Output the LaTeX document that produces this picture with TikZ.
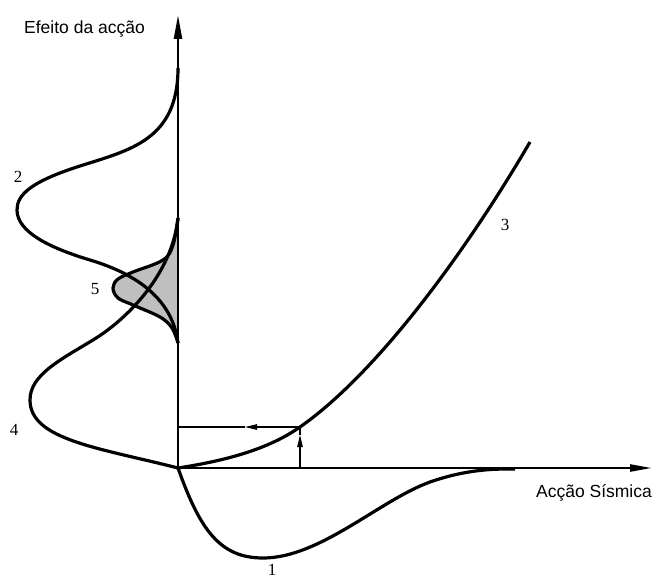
\documentclass[tikz,border=0pt]{standalone}
\usepackage{fontspec}
\setmainfont{Liberation Serif}
\newfontfamily\labelsans{Liberation Sans}
\usetikzlibrary{arrows.meta}
\begin{document}
\begin{tikzpicture}[x=1pt,y=-1pt,
  curve/.style={line width=3.2pt,line join=round},
  axisline/.style={line width=2.4pt},
  thinarrow/.style={line width=1.2pt},
  midtip/.style={-{Triangle[length=12pt,width=5.5pt]}},
  axislabel/.style={font=\labelsans\fontsize{17.5}{20}\selectfont,anchor=base,inner sep=0pt},
  numlabel/.style={font=\fontsize{17}{20}\selectfont,anchor=base,inner sep=0pt}]
\useasboundingbox (0,0) rectangle (660,578);
% shaded overlap (5)
\fill[gray!50] plot[smooth,tension=0.6] coordinates {(178,218) (173,245) (163,260) (133,272) (118,279) (113,288) (118,298) (133,305) (160,317) (172,328) (178,343)} -- cycle;
% axes
\coordinate (O) at (178,468);
\coordinate (ytip) at (178,15);
\coordinate (xtip) at (652,468);
\draw[axisline,-{Triangle[length=24pt,width=8pt]}] (O) -- (ytip);
\draw[axisline,-{Triangle[length=22pt,width=7pt]}] (O) -- (xtip);
% curve 1
\draw[curve] (O) .. controls (200,530) and (220,558) .. (263,558)
  .. controls (320,558) and (380,500) .. (430,482)
  .. controls (470,468) and (500,469) .. (515,469);
% curve 2
\draw[curve] (178,68) .. controls (178,140) and (130,150) .. (80,166)
  .. controls (30,182) and (17,195) .. (17,210)
  .. controls (17,232) and (50,248) .. (90,260)
  .. controls (130,272) and (172,295) .. (178,343);
% curve 4
\draw[curve] (O) .. controls (100,448) and (30,440) .. (30,400)
  .. controls (30,375) and (60,360) .. (93,340)
  .. controls (126,320) and (172,275) .. (178,218);
% curve 5
\draw[curve] plot[smooth,tension=0.6] coordinates {(178,218) (173,245) (163,260) (133,272) (118,279) (113,288) (118,298) (133,305) (160,317) (172,328) (178,343)};
% curve 3
\coordinate (P) at (300,427);
\draw[curve] (O) .. controls (230,460) and (270,448) .. (P)
  .. controls (380,371) and (470,245) .. (530,142);
% thin arrows
\coordinate (A) at (300,468);
\coordinate (Am) at (300,435);
\coordinate (Bm) at (245,427);
\coordinate (B) at (178,427);
\draw[thinarrow,midtip] (A) -- (Am);
\draw[thinarrow] (Am) -- (P);
\draw[thinarrow,midtip] (P) -- (Bm);
\draw[thinarrow] (Bm) -- (B);
% labels
\node[axislabel] (ylab) at (84.5,33.5) {Efeito da acção};
\node[axislabel] (xlab) at (594,497) {Acção Sísmica};
\node[numlabel] (n1) at (272,575) {1};
\node[numlabel] (n2) at (18,182) {2};
\node[numlabel] (n3) at (505,230) {3};
\node[numlabel] (n4) at (14,435) {4};
\node[numlabel] (n5) at (95,294) {5};
\end{tikzpicture}
\end{document}
